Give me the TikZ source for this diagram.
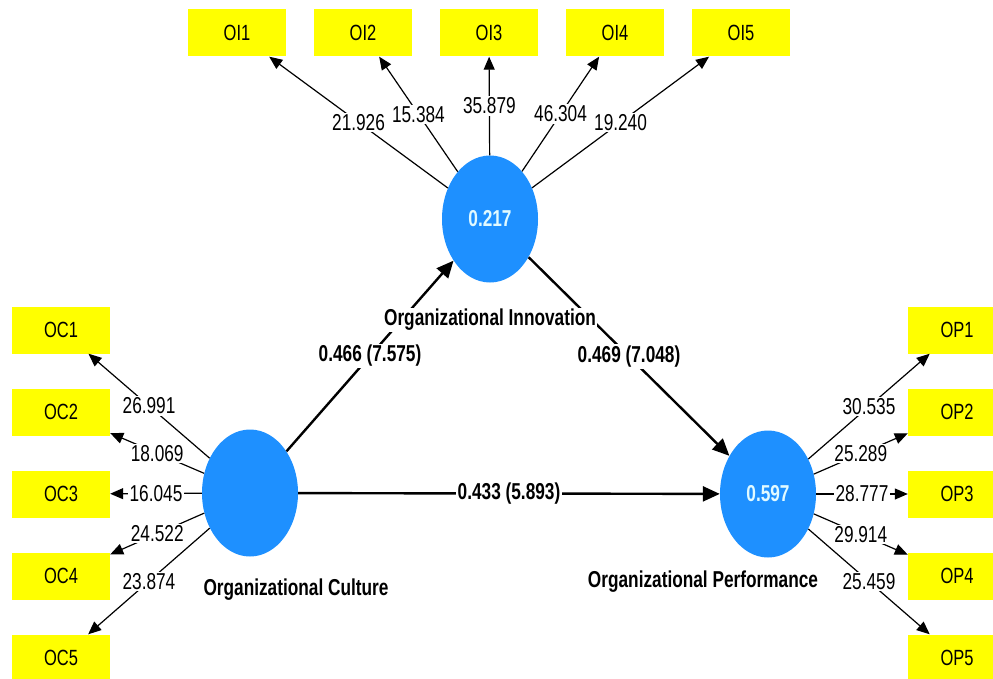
\documentclass[tikz,border=0pt]{standalone}
\usepackage{fontspec}
\setmainfont{Liberation Sans}[FakeStretch=0.75]
\usetikzlibrary{arrows.meta,shapes.geometric}
\definecolor{lvblue}{RGB}{30,144,255}
\definecolor{mvyellow}{RGB}{255,255,0}
\tikzset{
 lv/.style={ellipse,fill=lvblue,minimum width=96pt,minimum height=127pt,inner sep=0pt,text={rgb,255:red,225;green,250;blue,255},font=\fontsize{23}{26}\selectfont\bfseries},
 mv/.style={fill=mvyellow,minimum width=98pt,minimum height=47pt,inner sep=0pt,font=\fontsize{22}{26}\selectfont},
 load/.style={line width=1.2pt,-{Triangle[length=13pt,width=11pt]}},
 coef/.style={line width=2.4pt,-{Triangle[length=17pt,width=15pt]}},
 val/.style={fill=white,inner sep=1.5pt,font=\fontsize{23}{26}\selectfont},
 lvname/.style={fill=white,inner sep=1.5pt,font=\fontsize{23}{26}\selectfont\bfseries}
}
\begin{document}
\begin{tikzpicture}[x=1pt,y=-1pt]
\useasboundingbox (0,0) rectangle (993,679);
\clip (0,0) rectangle (993,679);
\node[lv] at (250,493) (OC) {};
\node[lv] at (490,219) (OI) {0.217};
\node[lv] at (768,494) (OP) {0.597};
\foreach \a/\b/\c[count=\i] in {21.926/26.991/30.535,15.384/18.069/25.289,35.879/16.045/28.777,46.304/24.522/29.914,19.240/23.874/25.459}{
 \node[mv] at ({237+126*(\i-1)},33) (OI\i) {OI\i};
 \node[mv] at (61,{330+82*(\i-1)}) (OC\i) {OC\i};
 \node[mv] at (957,{330+82*(\i-1)}) (OP\i) {OP\i};
 \draw[load] (OI) -- node[val]{\a} (OI\i);
 \draw[load] (OC) -- node[val]{\b} (OC\i);
 \draw[load] (OP) -- node[val]{\c} (OP\i);
}
\draw[coef] (OC) -- node[val,font=\fontsize{23}{26}\selectfont\bfseries]{0.466 (7.575)} (OI);
\draw[coef] (OI) -- node[val,font=\fontsize{23}{26}\selectfont\bfseries]{0.469 (7.048)} (OP);
\draw[coef] (OC) -- node[val,font=\fontsize{23}{26}\selectfont\bfseries]{0.433 (5.893)} (OP);
\node[lvname] at (490,320) (OIname) {Organizational Innovation};
\node[lvname] at (296,590) (OCname) {Organizational Culture};
\node[lvname] at (703,582) (OPname) {Organizational Performance};
\end{tikzpicture}
\end{document}
